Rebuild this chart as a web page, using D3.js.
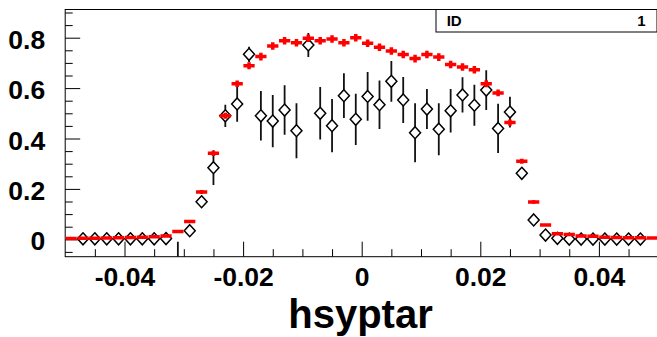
<!DOCTYPE html>
<html><head><meta charset="utf-8">
<script src="https://cdn.jsdelivr.net/npm/d3@7"></script>
<style>html,body{margin:0;padding:0;background:#fff;}svg{display:block;}</style>
</head><body>
<script>
// ---- data ----
const binCenters = [-0.049,-0.047,-0.045,-0.043,-0.041,-0.039,-0.037,-0.035,-0.033,-0.031,
  -0.029,-0.027,-0.025,-0.023,-0.021,-0.019,-0.017,-0.015,-0.013,-0.011,
  -0.009,-0.007,-0.005,-0.003,-0.001,0.001,0.003,0.005,0.007,0.009,
  0.011,0.013,0.015,0.017,0.019,0.021,0.023,0.025,0.027,0.029,
  0.031,0.033,0.035,0.037,0.039,0.041,0.043,0.045,0.047,0.049];
const binWidth = 0.002;
const redValues = [0.003,0.004,0.004,0.005,0.006,0.007,0.008,0.010,0.013,0.031,
  0.071,0.188,0.341,0.490,0.617,0.689,0.725,0.767,0.788,0.780,
  0.798,0.788,0.795,0.780,0.800,0.778,0.762,0.747,0.733,0.717,
  0.733,0.723,0.694,0.684,0.673,0.617,0.581,0.463,0.310,0.148,
  0.057,0.022,0.019,0.013,0.012,0.008,0.007,0.006,0.006,0.005];
const redErrors = [0,0,0,0,0,0,0,0,0.001,0.003,
  0.005,0.008,0.010,0.012,0.013,0.014,0.015,0.015,0.015,0.015,
  0.015,0.015,0.015,0.015,0.015,0.015,0.015,0.015,0.015,0.015,
  0.015,0.015,0.015,0.015,0.015,0.014,0.013,0.012,0.010,0.007,
  0.004,0.002,0.001,0,0,0,0,0,0,0];
const blackValues = [null,0.002,0.002,0.002,0.002,0.002,0.002,0.002,0.003,-0.12,
  0.034,0.149,0.284,0.490,0.537,0.734,0.490,0.469,0.513,0.431,
  0.771,0.500,0.451,0.570,0.476,0.567,0.534,0.627,0.553,0.423,
  0.517,0.437,0.510,0.573,0.532,0.592,0.440,0.505,0.262,0.077,
  0.017,0.004,0.001,0.001,0.001,0.001,0.001,0.001,0.001,null];
const blackErrors = [0,0.002,0.002,0.002,0.002,0.002,0.002,0.002,0.003,0.11,
  0.012,0.02,0.069,0.044,0.071,0.030,0.098,0.104,0.098,0.109,
  0.048,0.104,0.106,0.089,0.102,0.097,0.096,0.081,0.091,0.117,
  0.079,0.103,0.086,0.070,0.081,0.079,0.098,0.061,0.015,0.010,
  0.006,0.003,0.002,0.002,0.002,0.002,0.002,0.002,0.002,0];
const xMajorTicks = [-0.04,-0.02,0,0.02,0.04];
const xTickLabels = ["-0.04","-0.02","0","0.02","0.04"];
const xMinorTicks = [-0.045,-0.035,-0.03,-0.025,-0.015,-0.01,-0.005,0.005,0.01,0.015,0.025,0.03,0.035,0.045];
const yMajorTicks = [0,0.2,0.4,0.6,0.8];
const yTickLabels = ["0","0.2","0.4","0.6","0.8"];
const yMinorTicks = [-0.05,0.05,0.1,0.15,0.25,0.3,0.35,0.45,0.5,0.55,0.65,0.7,0.75,0.85,0.9];
const xTitle = "hsyptar";
const statLabel = "ID", statValue = "1";

// ---- layout ----
const W = 657, H = 337;
const fL = 65.2, fR = 658.2, fT = 9.5, fB = 256.7;
const FONT = "'Liberation Sans', Arial, Helvetica, sans-serif";

const x = d3.scaleLinear().domain([-0.05, 0.05]).range([fL, fR]);
const y = d3.scaleLinear().domain([0, 0.8]).range([239.3, 37.7]);

const svg = d3.select("body").append("svg").attr("width", W).attr("height", H);

svg.append("defs").append("clipPath").attr("id","clip")
  .append("rect").attr("x", fL).attr("y", fT).attr("width", fR - fL).attr("height", fB - fT);

// axes
const yMaj = svg.append("g").attr("transform", `translate(${fL},0)`)
  .call(d3.axisLeft(y).tickValues(yMajorTicks).tickSize(-15).tickPadding(20)
    .tickFormat((d,i) => yTickLabels[i]));
const yMin = svg.append("g").attr("transform", `translate(${fL},0)`)
  .call(d3.axisLeft(y).tickValues(yMinorTicks).tickSize(-7.5).tickFormat(""));
const xMaj = svg.append("g").attr("transform", `translate(0,${fB})`)
  .call(d3.axisBottom(x).tickValues(xMajorTicks).tickSize(-15)
    .tickFormat((d,i) => xTickLabels[i]));
const xMin = svg.append("g").attr("transform", `translate(0,${fB})`)
  .call(d3.axisBottom(x).tickValues(xMinorTicks).tickSize(-7.5).tickFormat(""));

[yMaj, yMin, xMaj, xMin].forEach(g => {
  g.select(".domain").remove();
  g.selectAll(".tick line").attr("stroke", "#000").attr("stroke-width", 1);
});
yMaj.selectAll("text").attr("font-family", FONT).attr("font-weight", "bold")
  .attr("font-size", 26.5).attr("fill", "#000").attr("dy", null).attr("y", 10.6).attr("x", -20);
xMaj.selectAll("text").attr("font-family", FONT).attr("font-weight", "bold")
  .attr("font-size", 26.5).attr("fill", "#000").attr("dy", null).attr("y", 29.5);

// frame
svg.append("rect").attr("x", fL).attr("y", fT).attr("width", fR - fL).attr("height", fB - fT)
  .attr("fill", "none").attr("stroke", "#000").attr("stroke-width", 1);

// data
const plot = svg.append("g").attr("clip-path", "url(#clip)");
const blackData = binCenters.map((c, i) => ({c, v: blackValues[i], e: blackErrors[i]}))
  .filter(d => d.v !== null);
const redData = binCenters.map((c, i) => ({c, v: redValues[i], e: redErrors[i]}));

const mh = 6, mw = 5.5;
const bg = plot.append("g");
blackData.forEach(d => {
  const cx = x(d.c), cy = y(d.v);
  const top = y(d.v + d.e), bot = y(d.v - d.e);
  if (cy - top > mh) bg.append("line").attr("x1", cx).attr("x2", cx).attr("y1", top).attr("y2", cy - mh)
    .attr("stroke", "#111").attr("stroke-width", 1.8);
  if (bot - cy > mh) bg.append("line").attr("x1", cx).attr("x2", cx).attr("y1", cy + mh).attr("y2", bot)
    .attr("stroke", "#111").attr("stroke-width", 1.8);
  bg.append("path").attr("d", `M${cx},${cy - mh}L${cx + mw},${cy}L${cx},${cy + mh}L${cx - mw},${cy}Z`)
    .attr("fill", "none").attr("stroke", "#000").attr("stroke-width", 1.5);
});

const rg = plot.append("g");
redData.forEach(d => {
  const x0 = x(d.c - binWidth / 2), x1 = x(d.c + binWidth / 2), cx = x(d.c);
  rg.append("line").attr("x1", x0 + 0.3).attr("x2", x1 - 0.3).attr("y1", y(d.v)).attr("y2", y(d.v))
    .attr("stroke", "#ff0000").attr("stroke-width", 3.5);
  if (d.e > 0) rg.append("line").attr("x1", cx).attr("x2", cx).attr("y1", y(d.v + d.e)).attr("y2", y(d.v - d.e))
    .attr("stroke", "#ff0000").attr("stroke-width", 3.5);
});

// axis title
svg.append("text").attr("x", 360.5).attr("y", 327.5).attr("text-anchor", "middle")
  .attr("font-family", FONT).attr("font-weight", "bold").attr("font-size", 40).attr("fill", "#000")
  .text(xTitle);

// stat box
svg.append("rect").attr("x", 436).attr("y", fT).attr("width", 221).attr("height", 32 - fT)
  .attr("fill", "#fff").attr("stroke", "#000").attr("stroke-width", 1);
svg.append("text").attr("x", 446.7).attr("y", 26).attr("font-family", FONT).attr("font-weight", "bold")
  .attr("font-size", 15).attr("fill", "#000").text(statLabel);
svg.append("text").attr("x", 645.7).attr("y", 26).attr("text-anchor", "end").attr("font-family", FONT)
  .attr("font-weight", "bold").attr("font-size", 15).attr("fill", "#000").text(statValue);
</script>
</body></html>
